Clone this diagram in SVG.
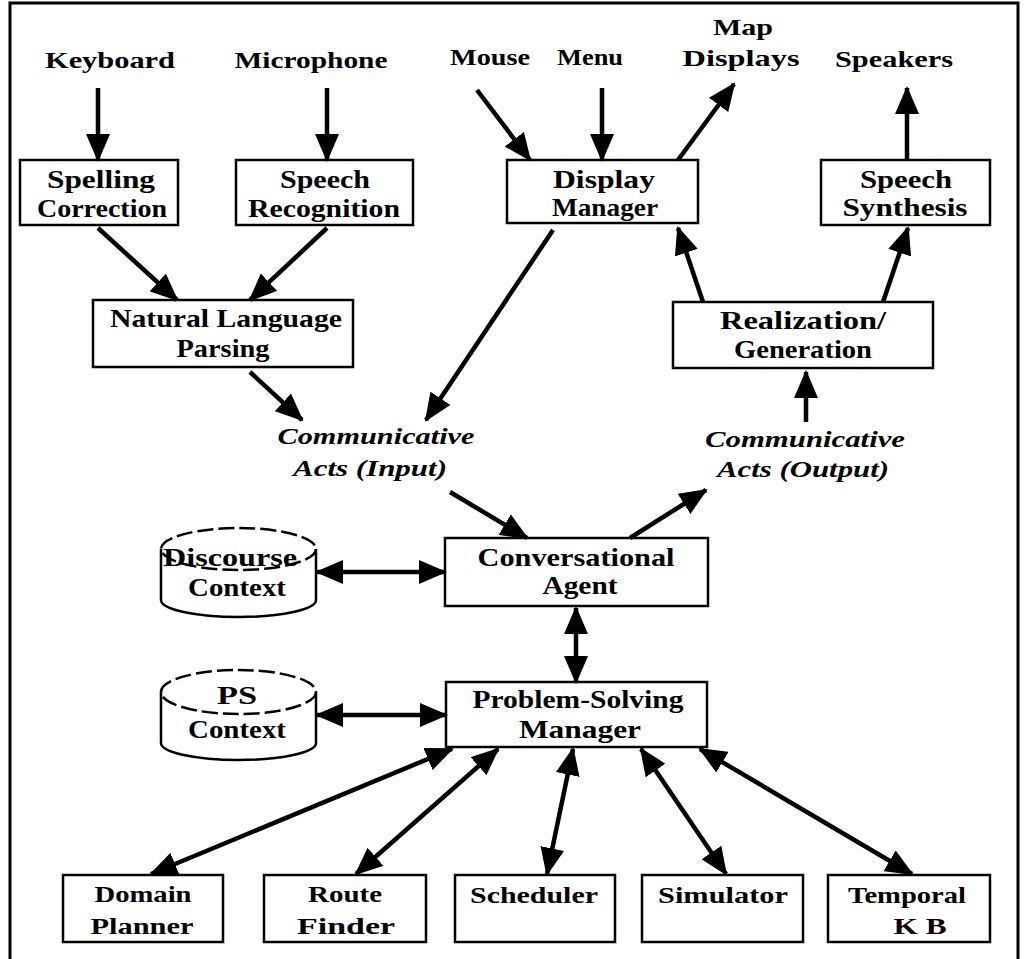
<svg xmlns="http://www.w3.org/2000/svg" width="1031" height="959" viewBox="0 0 1031 959">
<style>
text{font-family:"Liberation Serif","DejaVu Serif",serif;font-weight:bold;fill:#000;text-anchor:middle}
.lbl{font-size:24px}
.bx{font-size:26px}
.it{font-size:23px;font-style:italic}
.sm{font-size:24px}
.box{fill:#fff;stroke:#000;stroke-width:2.5}
.cyl{fill:#fff;stroke:#000;stroke-width:2.5}
.cyltop{fill:none;stroke:#000;stroke-width:2.5;stroke-dasharray:16 5}
.c line{stroke:#000;stroke-width:4.5}
</style>
<defs>
<marker id="ah" markerUnits="userSpaceOnUse" markerWidth="28" markerHeight="24" viewBox="0 0 28 24" refX="26" refY="12" orient="auto-start-reverse">
<path d="M0,0 L28,12 L0,24 z" fill="#000"/>
</marker>
</defs>
<rect width="1031" height="959" fill="#fff"/>
<path d="M10,962 V3 H1018 V962" fill="none" stroke="#000" stroke-width="3"/>

<g id="keyboard"><text class="lbl" x="110" y="68" textLength="130" lengthAdjust="spacingAndGlyphs">Keyboard</text></g>
<g id="microphone"><text class="lbl" x="311" y="68" textLength="153" lengthAdjust="spacingAndGlyphs">Microphone</text></g>
<g id="mouse"><text class="lbl" x="490" y="65" textLength="80" lengthAdjust="spacingAndGlyphs">Mouse</text></g>
<g id="menu"><text class="lbl" x="590" y="65" textLength="66" lengthAdjust="spacingAndGlyphs">Menu</text></g>
<g id="mapdisplays"><text class="lbl" x="743" y="35" textLength="60" lengthAdjust="spacingAndGlyphs">Map</text><text class="lbl" x="741" y="66" textLength="117" lengthAdjust="spacingAndGlyphs">Displays</text></g>
<g id="speakers"><text class="lbl" x="894" y="67" textLength="118" lengthAdjust="spacingAndGlyphs">Speakers</text></g>

<g id="spelling"><rect class="box" x="20" y="160" width="158" height="65"/><text class="bx" x="101" y="188" textLength="108" lengthAdjust="spacingAndGlyphs">Spelling</text><text class="bx" x="102" y="217" textLength="130" lengthAdjust="spacingAndGlyphs">Correction</text></g>
<g id="speechrec"><rect class="box" x="236" y="160" width="177" height="65"/><text class="bx" x="325" y="188" textLength="90" lengthAdjust="spacingAndGlyphs">Speech</text><text class="bx" x="324" y="217" textLength="152" lengthAdjust="spacingAndGlyphs">Recognition</text></g>
<g id="displaymgr"><rect class="box" x="507" y="160" width="191" height="63"/><text class="bx" x="604" y="188" textLength="102" lengthAdjust="spacingAndGlyphs">Display</text><text class="bx" x="605" y="216" textLength="106" lengthAdjust="spacingAndGlyphs">Manager</text></g>
<g id="speechsynth"><rect class="box" x="821" y="160" width="169" height="65"/><text class="bx" x="906" y="188" textLength="92" lengthAdjust="spacingAndGlyphs">Speech</text><text class="bx" x="905" y="216" textLength="125" lengthAdjust="spacingAndGlyphs">Synthesis</text></g>

<g id="nlp"><rect class="box" x="93" y="300" width="260" height="67"/><text class="bx" x="226" y="327" textLength="232" lengthAdjust="spacingAndGlyphs">Natural Language</text><text class="bx" x="223" y="357" textLength="93" lengthAdjust="spacingAndGlyphs">Parsing</text></g>
<g id="realgen"><rect class="box" x="673" y="302" width="260" height="66"/><text class="bx" x="803" y="329" textLength="166" lengthAdjust="spacingAndGlyphs">Realization/</text><text class="bx" x="803" y="358" textLength="138" lengthAdjust="spacingAndGlyphs">Generation</text></g>

<g id="commin"><text class="it" x="376" y="444" textLength="197" lengthAdjust="spacingAndGlyphs">Communicative</text><text class="it" x="370" y="476" textLength="154" lengthAdjust="spacingAndGlyphs">Acts (Input)</text></g>
<g id="commout"><text class="it" x="805" y="447" textLength="200" lengthAdjust="spacingAndGlyphs">Communicative</text><text class="it" x="803" y="477" textLength="172" lengthAdjust="spacingAndGlyphs">Acts (Output)</text></g>

<g id="convagent"><rect class="box" x="445" y="538" width="263" height="68"/><text class="bx" x="576" y="566" textLength="197" lengthAdjust="spacingAndGlyphs">Conversational</text><text class="bx" x="580" y="594" textLength="75" lengthAdjust="spacingAndGlyphs">Agent</text></g>

<g id="discourse"><path class="cyl" d="M161,549 V600 A77.5,17 0 0 0 316,600 V549"/><ellipse class="cyltop" cx="238.5" cy="549" rx="77.5" ry="21"/><text class="bx" x="230" y="566" textLength="134" lengthAdjust="spacingAndGlyphs">Discourse</text><text class="bx" x="237" y="596" textLength="98" lengthAdjust="spacingAndGlyphs">Context</text></g>

<g id="psm"><rect class="box" x="446" y="682" width="261" height="65"/><text class="bx" x="578" y="708" textLength="211" lengthAdjust="spacingAndGlyphs">Problem-Solving</text><text class="bx" x="580" y="738" textLength="122" lengthAdjust="spacingAndGlyphs">Manager</text></g>

<g id="pscontext"><path class="cyl" d="M161,692 V743 A77.5,17 0 0 0 316,743 V692"/><ellipse class="cyltop" cx="238.5" cy="692" rx="77.5" ry="22"/><text class="bx" x="237" y="704" textLength="40" lengthAdjust="spacingAndGlyphs">PS</text><text class="bx" x="237" y="738" textLength="98" lengthAdjust="spacingAndGlyphs">Context</text></g>

<g id="domain"><rect class="box" x="63" y="875" width="160" height="67"/><text class="sm" x="143" y="902" textLength="97" lengthAdjust="spacingAndGlyphs">Domain</text><text class="sm" x="142" y="934" textLength="103" lengthAdjust="spacingAndGlyphs">Planner</text></g>
<g id="route"><rect class="box" x="264" y="875" width="162" height="67"/><text class="sm" x="345" y="902" textLength="74" lengthAdjust="spacingAndGlyphs">Route</text><text class="sm" x="346" y="934" textLength="98" lengthAdjust="spacingAndGlyphs">Finder</text></g>
<g id="scheduler"><rect class="box" x="455" y="875" width="160" height="67"/><text class="sm" x="534" y="903" textLength="128" lengthAdjust="spacingAndGlyphs">Scheduler</text></g>
<g id="simulator"><rect class="box" x="642" y="875" width="161" height="67"/><text class="sm" x="723" y="903" textLength="130" lengthAdjust="spacingAndGlyphs">Simulator</text></g>
<g id="temporal"><rect class="box" x="828" y="875" width="162" height="67"/><text class="sm" x="907" y="903" textLength="118" lengthAdjust="spacingAndGlyphs">Temporal</text><text class="sm" x="920" y="934" textLength="53" lengthAdjust="spacingAndGlyphs">K B</text></g>

<g id="connectors" class="c">
<line x1="98" y1="88" x2="98" y2="160" marker-end="url(#ah)"/>
<line x1="327" y1="88" x2="327" y2="160" marker-end="url(#ah)"/>
<line x1="477" y1="90" x2="530" y2="160" marker-end="url(#ah)"/>
<line x1="602" y1="88" x2="602" y2="160" marker-end="url(#ah)"/>
<line x1="678" y1="160" x2="734" y2="84" marker-end="url(#ah)"/>
<line x1="907" y1="160" x2="907" y2="88" marker-end="url(#ah)"/>
<line x1="98" y1="228" x2="177" y2="300" marker-end="url(#ah)"/>
<line x1="327" y1="228" x2="250" y2="300" marker-end="url(#ah)"/>
<line x1="553" y1="230" x2="426" y2="420" marker-end="url(#ah)"/>
<line x1="703" y1="302" x2="678" y2="228" marker-end="url(#ah)"/>
<line x1="883" y1="302" x2="908" y2="228" marker-end="url(#ah)"/>
<line x1="250" y1="372" x2="302" y2="420" marker-end="url(#ah)"/>
<line x1="806" y1="422" x2="806" y2="372" marker-end="url(#ah)"/>
<line x1="450" y1="492" x2="527" y2="538" marker-end="url(#ah)"/>
<line x1="630" y1="538" x2="706" y2="490" marker-end="url(#ah)"/>
<line x1="317" y1="572" x2="445" y2="572" marker-start="url(#ah)" marker-end="url(#ah)"/>
<line x1="576" y1="608" x2="576" y2="682" marker-start="url(#ah)" marker-end="url(#ah)"/>
<line x1="317" y1="715" x2="446" y2="715" marker-start="url(#ah)" marker-end="url(#ah)"/>
<line x1="452" y1="749" x2="151" y2="874" marker-start="url(#ah)" marker-end="url(#ah)"/>
<line x1="498" y1="749" x2="356" y2="874" marker-start="url(#ah)" marker-end="url(#ah)"/>
<line x1="573" y1="749" x2="547" y2="874" marker-start="url(#ah)" marker-end="url(#ah)"/>
<line x1="641" y1="749" x2="726" y2="874" marker-start="url(#ah)" marker-end="url(#ah)"/>
<line x1="700" y1="749" x2="912" y2="874" marker-start="url(#ah)" marker-end="url(#ah)"/>
</g>
</svg>
